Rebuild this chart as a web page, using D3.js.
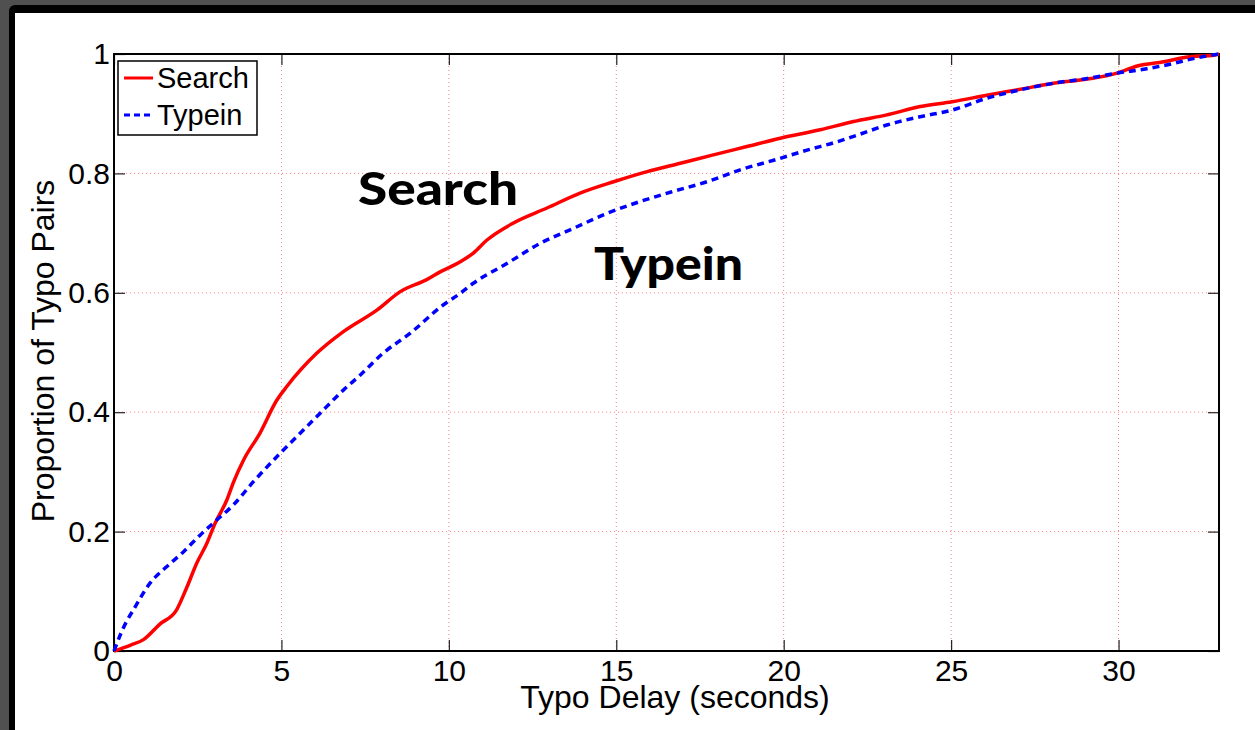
<!DOCTYPE html>
<html>
<head>
<meta charset="utf-8">
<script src="https://cdn.jsdelivr.net/npm/d3@7.9.0/dist/d3.min.js"></script>
<style>
  html, body { margin: 0; padding: 0; background: #505050; }
  svg { display: block; }
</style>
</head>
<body>
<svg id="chart" width="1255" height="730"></svg>
<script>
// CDF of typo delay
const searchDelay = [0, 0.5, 0.88, 1.37, 1.87, 2.17, 2.47, 2.77, 3.02, 3.37, 3.57, 3.87, 4.36, 4.86, 5.16, 6.06, 6.85, 7.85, 8.55, 9.34, 9.74, 10.34, 10.74, 11.13, 11.93, 12.93, 13.92, 14.92, 15.92, 16.91, 17.9, 18.9, 19.9, 21.09, 22.09, 23.08, 24.08, 25.03, 26.07, 27.07, 28.06, 29.07, 29.96, 30.56, 31.35, 32.05, 32.85, 33];
const searchProp  = [0, 0.01, 0.019, 0.045, 0.069, 0.106, 0.147, 0.18, 0.214, 0.253, 0.283, 0.32, 0.365, 0.42, 0.443, 0.499, 0.535, 0.571, 0.602, 0.622, 0.635, 0.652, 0.667, 0.688, 0.717, 0.742, 0.767, 0.786, 0.803, 0.817, 0.831, 0.845, 0.859, 0.873, 0.887, 0.898, 0.912, 0.92, 0.931, 0.941, 0.951, 0.958, 0.968, 0.98, 0.987, 0.995, 0.998, 1];

const typeinDelay = [0, 0.18, 0.38, 0.58, 1.08, 1.57, 2.07, 2.57, 3.02, 3.57, 4.17, 4.96, 5.46, 6.15, 6.85, 7.35, 8.04, 8.84, 9.84, 10.34, 10.73, 11.73, 12.73, 13.72, 14.72, 15.72, 16.71, 17.71, 18.7, 19.7, 20.7, 21.6, 22.09, 23.08, 24.08, 25.03, 26.07, 27.07, 28.06, 29.07, 29.96, 30.8, 31.7, 32.05, 33];
const typeinProp  = [0, 0.026, 0.05, 0.069, 0.114, 0.141, 0.166, 0.194, 0.217, 0.245, 0.284, 0.331, 0.359, 0.398, 0.437, 0.462, 0.499, 0.532, 0.58, 0.599, 0.616, 0.649, 0.683, 0.708, 0.733, 0.753, 0.77, 0.786, 0.806, 0.822, 0.839, 0.853, 0.862, 0.881, 0.895, 0.906, 0.926, 0.94, 0.951, 0.959, 0.968, 0.975, 0.985, 0.99, 1];

const xTicks = [0, 5, 10, 15, 20, 25, 30];
const yTicks = [0, 0.2, 0.4, 0.6, 0.8, 1];
const seriesNames = ['Search', 'Typein'];
const seriesColors = ['#ff0000', '#0000ff'];

const FONT = '"Liberation Sans", Arial, sans-serif';
const svg = d3.select('#chart');

// window frame
svg.append('rect').attr('x', 9).attr('y', 5).attr('width', 1260).attr('height', 740)
   .attr('rx', 6).attr('fill', '#000');
svg.append('rect').attr('x', 15).attr('y', 13).attr('width', 1250).attr('height', 730)
   .attr('fill', '#fff');

const margin = { left: 114, top: 54, right: 1219, bottom: 651 };
const x = d3.scaleLinear().domain([0, 33]).range([margin.left, margin.right]);
const y = d3.scaleLinear().domain([0, 1]).range([margin.bottom, margin.top]);
const w = margin.right - margin.left;
const h = margin.bottom - margin.top;

// dotted grid
const grid = svg.append('g');
grid.selectAll('line.gx').data(xTicks.filter(d => d > 0)).join('line')
    .attr('class', 'gx')
    .attr('x1', d => x(d)).attr('x2', d => x(d))
    .attr('y1', margin.top).attr('y2', margin.bottom);
grid.selectAll('line.gy').data(yTicks.filter(d => d > 0 && d < 1)).join('line')
    .attr('class', 'gy')
    .attr('x1', margin.left).attr('x2', margin.right)
    .attr('y1', d => y(d)).attr('y2', d => y(d));
grid.selectAll('line').attr('stroke', '#ff8080').attr('stroke-width', 1)
    .attr('stroke-dasharray', '1,3');

// axes with inward ticks
const fmt = d => String(d);
const axisStyle = g => {
  g.select('.domain').remove();
  g.attr('font-family', FONT).attr('font-size', 30);
  g.selectAll('.tick line').attr('stroke', '#222').attr('stroke-width', 1.2);
  g.selectAll('.tick text').attr('fill', '#000');
};
svg.append('g').attr('transform', `translate(0,${margin.bottom})`)
   .call(d3.axisBottom(x).tickValues(xTicks).tickFormat(fmt).tickSizeInner(-11).tickPadding(9))
   .call(axisStyle);
svg.append('g').attr('transform', `translate(0,${margin.top})`)
   .call(d3.axisTop(x).tickValues(xTicks).tickFormat('').tickSizeInner(-11))
   .call(axisStyle);
svg.append('g').attr('transform', `translate(${margin.left},0)`)
   .call(d3.axisLeft(y).tickValues(yTicks).tickFormat(fmt).tickSizeInner(-11).tickPadding(4))
   .call(axisStyle);
svg.append('g').attr('transform', `translate(${margin.right},0)`)
   .call(d3.axisRight(y).tickValues(yTicks).tickFormat('').tickSizeInner(-11))
   .call(axisStyle);

// plot box
svg.append('rect').attr('x', margin.left).attr('y', margin.top).attr('width', w).attr('height', h)
   .attr('fill', 'none').attr('stroke', '#000').attr('stroke-width', 2);

// curves
const line = d3.line().x(d => x(d[0])).y(d => y(d[1])).curve(d3.curveMonotoneX);
const searchPts = d3.zip(searchDelay, searchProp);
const typeinPts = d3.zip(typeinDelay, typeinProp);
svg.append('path').attr('d', line(searchPts)).attr('fill', 'none')
   .attr('stroke', seriesColors[0]).attr('stroke-width', 3.5).attr('stroke-linejoin', 'round');
svg.append('path').attr('d', line(typeinPts)).attr('fill', 'none')
   .attr('stroke', seriesColors[1]).attr('stroke-width', 3.5).attr('stroke-dasharray', '7,5');

// axis titles
svg.append('text').attr('x', 675).attr('y', 708)
   .attr('text-anchor', 'middle').attr('font-family', FONT)
   .attr('font-size', 32).text('Typo Delay (seconds)');
svg.append('text').attr('transform', 'translate(54,351) rotate(-90)')
   .attr('text-anchor', 'middle').attr('font-family', FONT)
   .attr('font-size', 32).text('Proportion of Typo Pairs');

// legend
const legend = svg.append('g');
legend.append('rect').attr('x', 118).attr('y', 61).attr('width', 139).attr('height', 74)
      .attr('fill', '#fff').attr('stroke', '#000').attr('stroke-width', 1.5);
seriesNames.forEach((name, i) => {
  const ly = 78 + i * 37;
  legend.append('line').attr('x1', 124).attr('x2', 153).attr('y1', ly).attr('y2', ly)
        .attr('stroke', seriesColors[i]).attr('stroke-width', 3)
        .attr('stroke-dasharray', i === 1 ? '6,4' : null);
  legend.append('text').attr('x', 157).attr('y', ly + 10)
        .attr('font-family', FONT).attr('font-size', 29)
        .text(name);
});

// in-plot labels
svg.append('text').attr('x', 358).attr('y', 205).attr('textLength', 160)
   .attr('lengthAdjust', 'spacingAndGlyphs')
   .attr('font-family', 'Lato, "Open Sans", sans-serif').attr('font-weight', 900)
   .attr('font-size', 45).text('Search');
svg.append('text').attr('x', 594).attr('y', 280).attr('textLength', 149)
   .attr('lengthAdjust', 'spacingAndGlyphs')
   .attr('font-family', 'Lato, "Open Sans", sans-serif').attr('font-weight', 900)
   .attr('font-size', 45).text('Typein');
</script>
</body>
</html>
